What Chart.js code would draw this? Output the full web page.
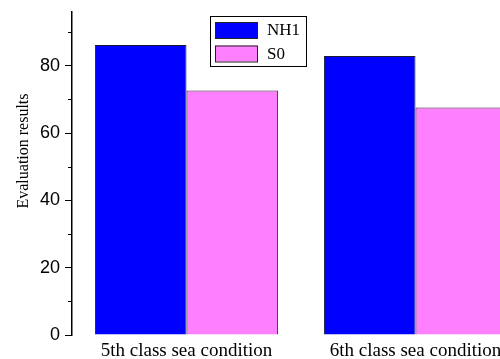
<!DOCTYPE html>
<html>
<head>
    <script src="https://cdn.jsdelivr.net/npm/chart.js@4.4.1/dist/chart.umd.min.js"></script>
    <style>
        body {
            margin: 0;
            padding: 0;
            background: #fff;
            overflow: hidden;
        }
        #wrap {
            width: 530px;
            height: 359px;
        }
    </style>
</head>
<body>
<div id="wrap">
    <canvas id="myChart" width="530" height="359"></canvas>
</div>

<script>
    const categories = ['5th class sea condition', '6th class sea condition'];
    const nh1Values = [86.2, 82.9];
    const s0Values = [72.7, 67.6];
    const yMajorTicks = [0, 20, 40, 60, 80];
    const yMinorTicks = [10, 30, 50, 70, 90];
    const yTitle = 'Evaluation results';

    const serif = '"Liberation Serif", "Times New Roman", serif';

    // short minor ticks on the left axis + the axis title (sits a bit above centre in the original)
    const axisExtras = {
        id: 'axisExtras',
        afterDraw(chart) {
            const ctx = chart.ctx;
            const y = chart.scales.y;
            ctx.save();
            ctx.strokeStyle = '#000';
            ctx.lineWidth = 1;
            yMinorTicks.forEach(v => {
                const py = Math.round(y.getPixelForValue(v)) + 0.5;
                ctx.beginPath();
                ctx.moveTo(y.right - 4, py);
                ctx.lineTo(y.right, py);
                ctx.stroke();
            });
            ctx.translate(24, 151);
            ctx.rotate(-Math.PI / 2);
            ctx.fillStyle = '#000';
            ctx.font = '16px ' + serif;
            ctx.textAlign = 'center';
            ctx.textBaseline = 'middle';
            ctx.fillText(yTitle, 0, 0);
            ctx.restore();
        }
    };

    // boxed legend like the original
    const boxLegend = {
        id: 'boxLegend',
        afterDraw(chart) {
            const ctx = chart.ctx;
            ctx.save();
            ctx.fillStyle = '#fff';
            ctx.fillRect(210, 16, 96, 50);
            ctx.strokeStyle = '#000';
            ctx.lineWidth = 1;
            ctx.strokeRect(210.5, 16.5, 96, 50);
            chart.data.datasets.forEach((ds, i) => {
                const top = 22 + i * 23.5;
                ctx.fillStyle = ds.backgroundColor;
                ctx.fillRect(215, top, 42, 16);
                ctx.strokeStyle = '#222';
                ctx.strokeRect(215.5, top + 0.5, 42, 16);
                ctx.fillStyle = '#000';
                ctx.font = '17px ' + serif;
                ctx.textBaseline = 'middle';
                ctx.fillText(ds.label, 267, top + 9);
            });
            ctx.restore();
        }
    };

    const ctx = document.getElementById('myChart').getContext('2d');
    const myChart = new Chart(ctx, {
        type: 'bar',
        data: {
            labels: categories,
            datasets: [
                {
                    label: 'NH1',
                    data: nh1Values,
                    backgroundColor: '#0000ff',
                    borderColor: '#1a1a33',
                    borderWidth: 1
                },
                {
                    label: 'S0',
                    data: s0Values,
                    backgroundColor: '#ff80ff',
                    borderColor: '#332233',
                    borderWidth: 1
                }
            ]
        },
        options: {
            responsive: false,
            animation: false,
            layout: {padding: {top: 12, right: 0, left: 0, bottom: 0}},
            plugins: {
                legend: {display: false},
                tooltip: {enabled: false}
            },
            datasets: {
                bar: {categoryPercentage: 0.8, barPercentage: 1.0}
            },
            scales: {
                x: {
                    grid: {display: false},
                    border: {display: false},
                    ticks: {
                        color: '#000',
                        padding: -3,
                        maxRotation: 0,
                        font: {family: serif, size: 19}
                    },
                    afterFit(scale) {
                        scale.height = 24;
                        scale.paddingLeft = 0;
                        scale.paddingRight = 0;
                    }
                },
                y: {
                    min: 0,
                    max: 96,
                    afterBuildTicks(scale) {
                        scale.ticks = yMajorTicks.map(v => ({value: v}));
                    },
                    grid: {
                        drawOnChartArea: false,
                        tickLength: 7,
                        color: '#000',
                        lineWidth: 1
                    },
                    border: {display: true, color: '#000', width: 1.5},
                    ticks: {
                        color: '#000',
                        padding: 5,
                        font: {family: '"Liberation Sans", Arial, sans-serif', size: 18}
                    },
                    afterFit(scale) {
                        scale.width = 72;
                        scale.paddingTop = 0;
                        scale.paddingBottom = 0;
                    }
                }
            }
        },
        plugins: [axisExtras, boxLegend]
    });
</script>
</body>
</html>
